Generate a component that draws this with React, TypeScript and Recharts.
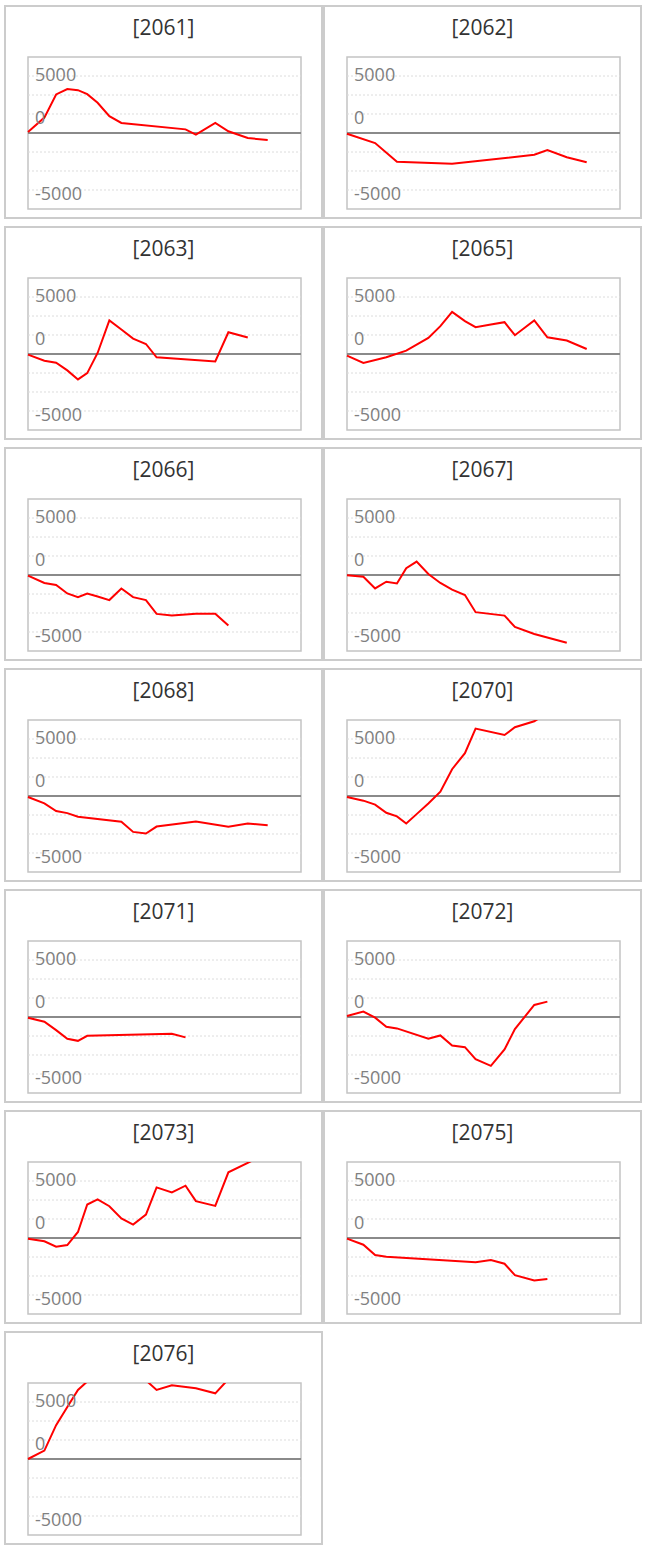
import React from "react";
import { LineChart, Line, XAxis, YAxis, ReferenceLine, ReferenceArea } from "recharts";

// shared time positions (0..100 across the plot)
const xDays = [0, 6, 10.3, 14.4, 18.3, 21.7, 25.5, 29.8, 34.2, 38.5, 43.2, 47.1, 52.7, 57.7, 61.5, 68.6, 73.4, 80.5, 87.8];

const s2061 = [90, 1350, 3380, 3850, 3760, 3410, 2650, 1470, 880, null, null, null, null, 320, -150, 880, 150, -440, -620];
const s2062 = [-60, null, -880, null, -2530, null, null, null, null, -2700, null, null, null, null, null, -1910, -1500, -2120, -2560];
const s2063 = [-60, -590, -760, -1440, -2230, -1680, 90, 2940, 2150, 1350, 880, -290, null, null, null, -650, 1910, 1440, null];
const s2065 = [-150, -790, null, -290, null, 290, null, 1410, 2440, 3700, 2880, 2350, 2590, 2790, 1650, 2940, 1470, 1180, 440];
const s2066 = [-60, -700, -880, -1620, -1940, -1620, -1880, -2200, -1180, -1940, -2200, -3410, -3560, null, -3410, -3410, -4440, null, null];
const s2067 = [-30, -150, -1180, -590, -740, 590, 1180, 90, -700, -1290, -1760, -3260, null, -3560, -4560, -5170, null, -5940, null];
const s2068 = [-90, -650, -1320, -1500, -1820, null, null, null, -2260, -3150, -3290, -2680, null, null, -2230, null, -2700, -2410, -2560];
const s2070 = [-90, -410, -760, -1470, -1790, -2410, -1590, -650, 380, 2350, 3760, 5910, null, 5350, 6030, 6550, 7300, 7800, null];
const s2071 = [-60, -410, -1150, -1910, -2090, -1650, null, null, null, null, null, null, -1470, -1790, null, null, null, null, null];
const s2072 = [90, 470, -60, -850, -1000, null, null, -1910, -1620, -2500, -2650, -3700, -4290, -2850, -1060, 1060, 1350, null, null];
const s2073 = [-60, -290, -760, -620, 530, 2940, 3380, 2790, 1710, 1180, 2060, 4440, 4000, 4590, 3230, 2820, 5760, 6590, 7500];
const s2075 = [-60, -590, -1500, -1650, null, null, null, null, null, null, null, -2120, -1940, -2260, -3260, -3730, -3590, null, null];
const s2076 = [0, 740, 2970, 4560, 6060, 6800, 7600, 8200, 8600, 8000, 6900, 6060, 6470, null, 6200, 5760, 7000, 7600, null];

const panels = [
  { title: "[2061]", values: s2061 },
  { title: "[2062]", values: s2062 },
  { title: "[2063]", values: s2063 },
  { title: "[2065]", values: s2065 },
  { title: "[2066]", values: s2066 },
  { title: "[2067]", values: s2067 },
  { title: "[2068]", values: s2068 },
  { title: "[2070]", values: s2070 },
  { title: "[2071]", values: s2071 },
  { title: "[2072]", values: s2072 },
  { title: "[2073]", values: s2073 },
  { title: "[2075]", values: s2075 },
  { title: "[2076]", values: s2076 },
];

const yMax = 6666.67;
const gridValues = [-5000, -3333.33, -1666.67, 1666.67, 3333.33, 5000];
// tick labels sit where the original draws them
const yTickValues = [5090, 1390, -5320];
const yTickLabels = ["5000", "0", "-5000"];

const FONT = "'Open Sans', 'Noto Sans', sans-serif";

function Panel({ title, values, left, top }: { title: string; values: (number | null)[]; left: number; top: number }) {
  const data = xDays.map((x, i) => ({ x, v: values[i] }));
  return (
    <div
      style={{
        position: "absolute",
        left,
        top,
        width: 319,
        height: 214,
        boxSizing: "border-box",
        border: "2px solid #cccccc",
        background: "#fff",
      }}
    >
      <div
        style={{
          position: "absolute",
          left: 0,
          top: 0,
          width: "100%",
          height: 40,
          lineHeight: "40px",
          textAlign: "center",
          fontFamily: FONT,
          fontSize: 21,
          color: "#333",
        }}
      >
        {title}
      </div>
      <div style={{ position: "absolute", left: 0, top: 0 }}>
        <LineChart width={315} height={205} data={data} margin={{ top: 50, right: 20, bottom: 3, left: 22 }}>
          <XAxis type="number" dataKey="x" domain={[0, 100]} hide />
          <YAxis
            type="number"
            domain={[-yMax, yMax]}
            allowDataOverflow
            mirror
            ticks={yTickValues}
            interval={0}
            tickFormatter={(v: number) => yTickLabels[yTickValues.indexOf(v)] ?? ""}
            axisLine={false}
            tickLine={false}
            tickSize={5}
            tickMargin={2}
            tick={{ fill: "#808080", fontSize: 18, fontFamily: FONT }}
          />
          {gridValues.map((g) => (
            <ReferenceLine key={g} y={g} stroke="#dcdcdc" strokeDasharray="2 2" strokeWidth={1} />
          ))}
          <ReferenceLine y={0} stroke="#8a8a8a" strokeWidth={2} />
          <Line
            type="linear"
            dataKey="v"
            stroke="#ff0000"
            strokeWidth={2}
            dot={false}
            connectNulls
            isAnimationActive={false}
          />
          <ReferenceArea x1={0} x2={100} y1={-yMax} y2={yMax} fill="none" stroke="#c4c4c4" strokeWidth={1.5} />
        </LineChart>
      </div>
    </div>
  );
}

export default function App() {
  return (
    <div style={{ position: "absolute", left: 0, top: 0, width: 648, height: 1548, background: "#fff" }}>
      {panels.map((p, i) => (
        <Panel key={p.title} title={p.title} values={p.values} left={4 + (i % 2) * 319} top={5 + Math.floor(i / 2) * 221} />
      ))}
    </div>
  );
}
